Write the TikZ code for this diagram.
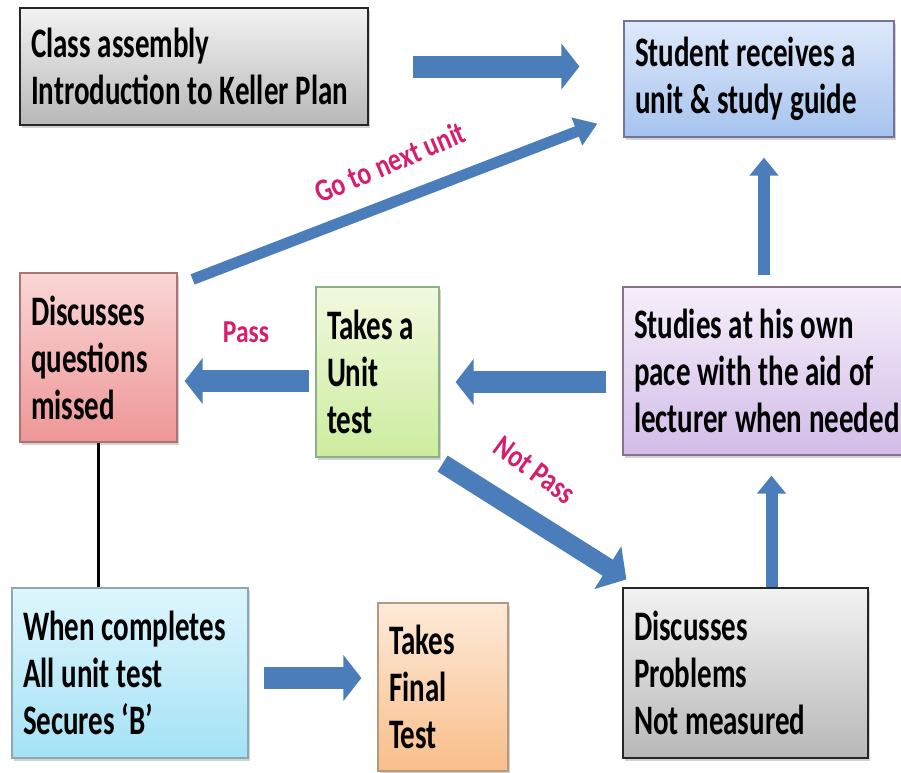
\documentclass[tikz,border=0pt]{standalone}
\usepackage{fontspec}
\usetikzlibrary{arrows.meta,shadows}
\newfontfamily\boxfont[FakeStretch=0.69]{Carlito Bold}
\newfontfamily\labfont[FakeStretch=0.8]{Carlito Bold}
\definecolor{arrowblue}{HTML}{4A7DBA}
\definecolor{labelpink}{HTML}{D61E6E}
\tikzset{
  box/.style={rectangle, line width=1.2pt, inner xsep=11pt, align=left,
    font=\boxfont\fontsize{42}{47}\selectfont,
    execute at begin node={\spaceskip=6.8pt plus 3pt minus 1pt\relax},
    drop shadow={shadow xshift=2pt, shadow yshift=-3pt, opacity=0.35}},
  graybox/.style={box, draw=black!85, top color=black!5, bottom color=black!28},
  bluebox/.style={box, draw=blue!30!black!55, top color={rgb,255:red,222;green,233;blue,250}, bottom color={rgb,255:red,166;green,195;blue,238}},
  redbox/.style={box, draw=red!40!black!55, top color={rgb,255:red,250;green,214;blue,214}, bottom color={rgb,255:red,238;green,150;blue,150}},
  greenbox/.style={box, draw=green!30!black!45, top color={rgb,255:red,242;green,249;blue,222}, bottom color={rgb,255:red,204;green,236;blue,158}},
  purplebox/.style={box, draw=violet!30!black!55, top color={rgb,255:red,245;green,238;blue,250}, bottom color={rgb,255:red,210;green,188;blue,232}},
  cyanbox/.style={box, draw=cyan!40!black!55, top color={rgb,255:red,222;green,246;blue,253}, bottom color={rgb,255:red,164;green,226;blue,245}},
  orangebox/.style={box, draw=orange!40!black!50, top color={rgb,255:red,253;green,234;blue,217}, bottom color={rgb,255:red,249;green,190;blue,138}},
  harrow/.style={arrowblue, line width=22pt, -{Triangle[width=45pt,length=18pt]}},
  varrow/.style={arrowblue, line width=12pt, -{Triangle[width=28pt,length=18pt]}},
  darrow/.style={arrowblue, line width=#1, -{Triangle[width=2.6*#1,length=22pt]}},
  lab/.style={text=labelpink, font=\labfont\fontsize{32}{36}\selectfont,
    execute at begin node={\spaceskip=6pt\relax}}
}
\begin{document}
\begin{tikzpicture}[x=1pt,y=-1pt]
	\useasboundingbox[fill=white] (0,0) rectangle (901,772);
	\node[graybox, text width=326pt, minimum height=117pt] (class) at (194,66.5) {Class assembly\\Introduction to Keller Plan};
	\node[bluebox, text width=248pt, minimum height=116pt] (student) at (759,79) {Student receives a\\unit \& study guide};
	\node[redbox, text width=135pt, minimum height=169pt] (discq) at (98.5,357.5) {Discusses\\questions\\missed};
	\node[greenbox, text width=101pt, minimum height=170pt] (takes) at (377.5,372) {Takes a\\Unit\\test};
	\node[purplebox, text width=272pt, minimum height=168pt] (studies) at (770,371) {Studies at his own\\pace with the aid of\\lecturer when needed};
	\node[graybox, text width=223pt, minimum height=170pt] (probl) at (745.5,673) {Discusses\\Problems\\Not measured};
	\node[cyanbox, text width=214pt, minimum height=170pt] (when) at (130,673) {When completes\\All unit test\\Secures ‘B’};
	\node[orangebox, text width=108pt, minimum height=168pt] (final) at (443,687) {Takes\\Final\\Test};
	\draw[harrow, shorten <=44pt, shorten >=44pt] (class.east) -- (class.east -| student.west);
	\draw[darrow=11pt] ([xshift=15pt,yshift=-7pt]discq.north east) -- ([xshift=-26pt,yshift=14pt]student.south west);
	\draw[harrow, shorten <=6pt, shorten >=7pt] ([yshift=-9pt]takes.west) -- ([yshift=-9pt]takes.west -| discq.east);
	\draw[harrow, shorten <=16pt, shorten >=16pt] ([yshift=-11pt]studies.west) -- ([yshift=-11pt]studies.west -| takes.east);
	\draw[varrow, shorten <=11pt, shorten >=20pt] ([xshift=-6pt]studies.north) -- ([xshift=-6pt]studies.north |- student.south);
	\draw[varrow, shorten >=20pt] ([xshift=26pt]probl.north) -- ([xshift=26pt]probl.north |- studies.south);
	\draw[darrow=19pt] ([xshift=3pt,yshift=-6pt]takes.south east) -- ([xshift=4pt,yshift=8pt]probl.north west);
	\draw[black, line width=2.5pt] (discq.south) -- (discq.south |- when.north);
	\draw[harrow, shorten <=15pt, shorten >=16pt] ([yshift=-5pt]when.east) -- ([yshift=-5pt]when.east -| final.west);
	\node[lab, rotate=23] (next) at (390,162) {Go to next unit};
	\node[lab] (pass) at (246,332) {Pass};
	\node[lab, rotate=-36] (notpass) at (535,470) {Not Pass};
\end{tikzpicture}
\end{document}
